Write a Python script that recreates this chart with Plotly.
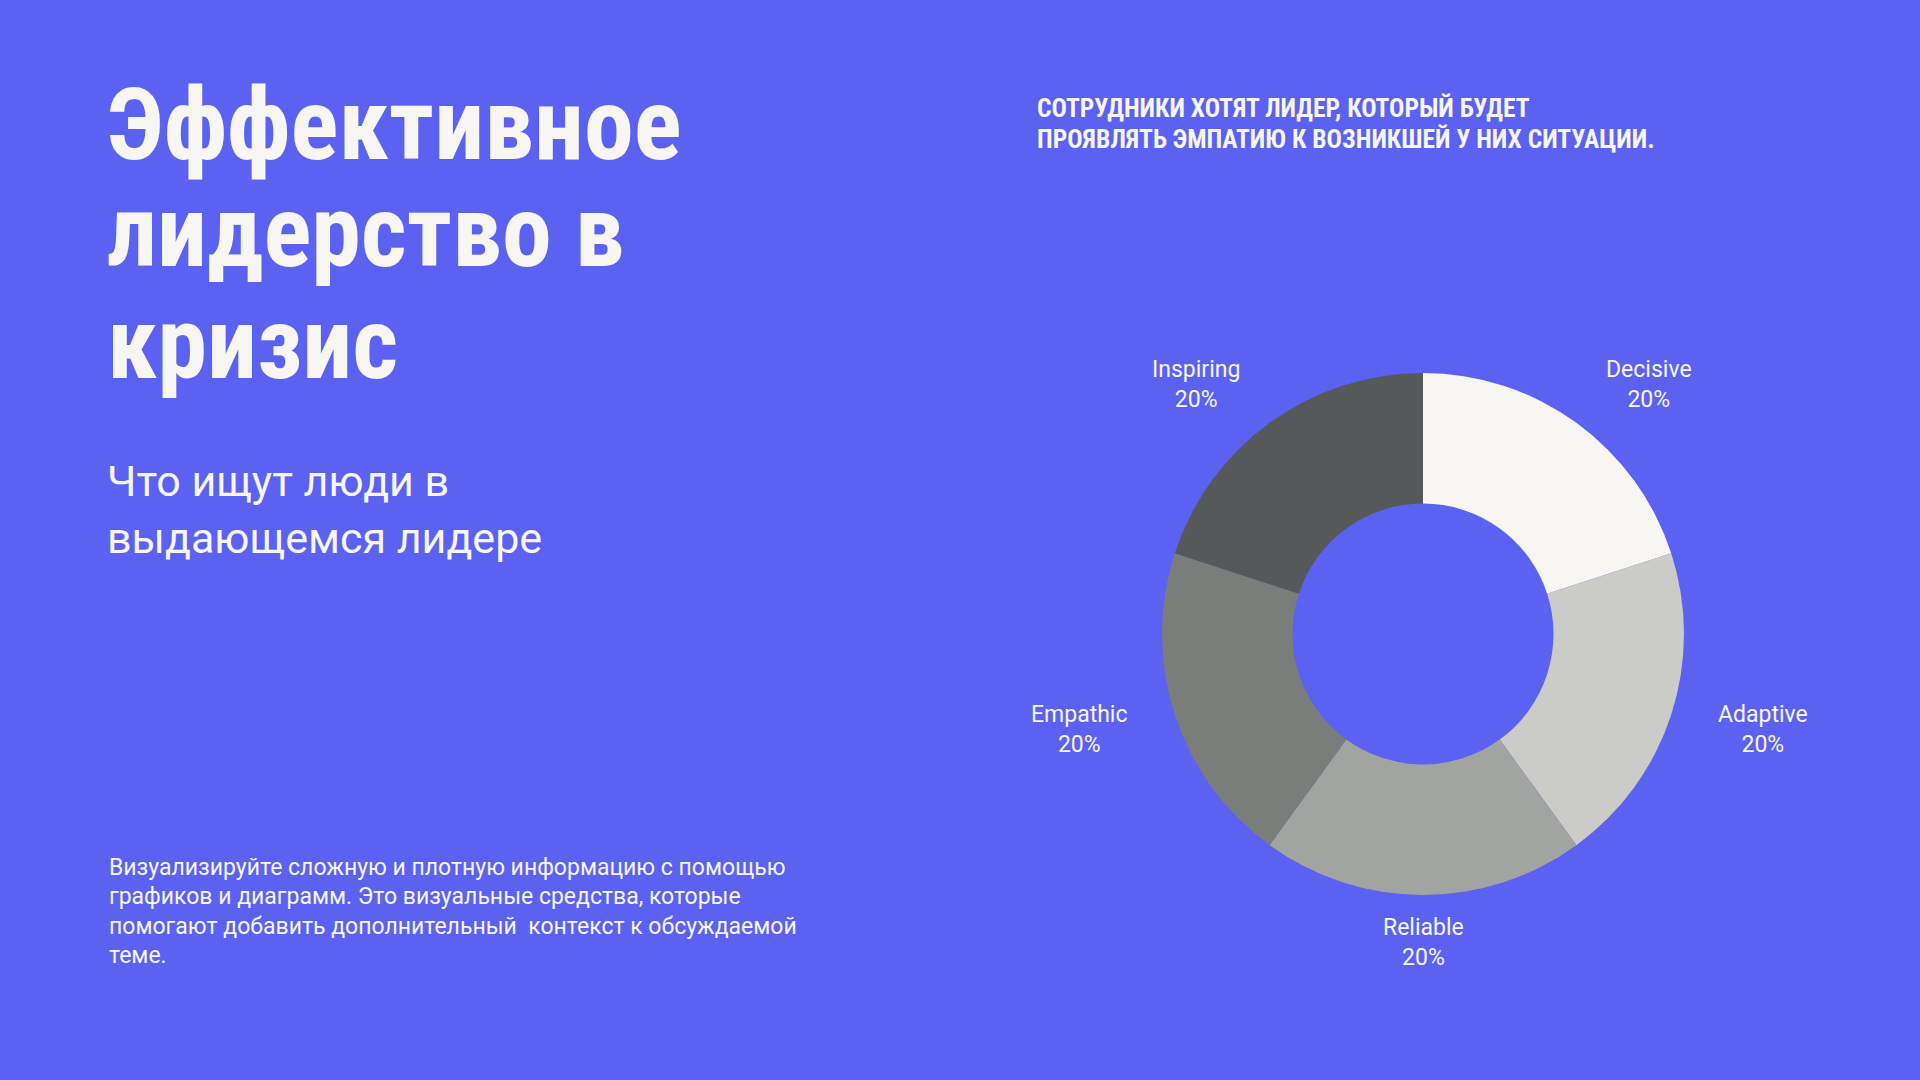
import math
import plotly.graph_objects as go

# ---- data ----
categories = ["Decisive", "Adaptive", "Reliable", "Empathic", "Inspiring"]
values = [20, 20, 20, 20, 20]
slice_colors = ["#F7F6F3", "#CBCCC8", "#A2A4A1", "#7A7E7B", "#555959"]

title_lines = ["Эффективное", "лидерство в", "кризис"]
subtitle_lines = ["Что ищут люди в", "выдающемся лидере"]
header_lines = ["СОТРУДНИКИ ХОТЯТ ЛИДЕР, КОТОРЫЙ БУДЕТ",
                "ПРОЯВЛЯТЬ ЭМПАТИЮ К ВОЗНИКШЕЙ У НИХ СИТУАЦИИ."]
body_lines = ["Визуализируйте сложную и плотную информацию с помощью",
              "графиков и диаграмм. Это визуальные средства, которые",
              "помогают добавить дополнительный  контекст к обсуждаемой",
              "теме."]

BG = "#5B62F1"
FG = "#F7F6F3"
W, H = 1920, 1080
COND_BOLD = "Roboto Condensed, DejaVu Sans Condensed, Liberation Sans Narrow, Roboto"

CX, CY, R = 1423, 634, 261      # donut centre / radius in px
LABEL_R = 308                   # radius where slice labels are anchored

fig = go.Figure()
fig.add_trace(go.Pie(
    labels=categories, values=values, sort=False, direction="clockwise",
    hole=0.5, marker=dict(colors=slice_colors, line=dict(width=0)),
    textinfo="none", showlegend=False, hoverinfo="label+percent",
    domain=dict(x=[(CX - R) / W, (CX + R) / W],
                y=[(H - CY - R) / H, (H - CY + R) / H]),
))

ann = []
# slice labels, anchored along each slice's mid-angle
total = sum(values)
cum = 0
for cat, v in zip(categories, values):
    mid = (cum + v / 2) / total * 2 * math.pi
    cum += v
    dx, dy = math.sin(mid), -math.cos(mid)
    px, py = CX + LABEL_R * dx, CY + LABEL_R * dy
    if abs(dx) < 0.05:
        xa = "center"
    else:
        xa = "left" if dx > 0 else "right"
    pct = f"{round(v / total * 100)}%"
    ann.append(dict(text=f"{cat}<br>{pct}", x=px / W, y=1 - py / H,
                    xref="paper", yref="paper", xanchor=xa, yanchor="middle",
                    align="center", showarrow=False,
                    font=dict(family="Roboto", size=23, color=FG)))

def add_lines(lines, x, ys, size, family, weight="normal"):
    for t, y in zip(lines, ys):
        ann.append(dict(text=t, x=x / W, y=1 - y / H, xref="paper", yref="paper",
                        xanchor="left", yanchor="middle", showarrow=False,
                        font=dict(family=family, size=size, color=FG, weight=weight)))

add_lines(title_lines, 105, [124, 231, 343], 100, COND_BOLD, "bold")
add_lines(subtitle_lines, 105, [481, 538], 43, "Roboto")
add_lines(header_lines, 1035, [108, 139], 25.5, COND_BOLD, "bold")
add_lines(body_lines, 107, [867, 896, 926, 955], 23, "Roboto")

fig.update_layout(
    width=W, height=H, paper_bgcolor=BG, plot_bgcolor=BG,
    margin=dict(l=0, r=0, t=0, b=0), showlegend=False,
    annotations=ann,
)
fig.write_html("out.html", config={"displayModeBar": False},
               post_script="document.body.style.margin='0';")
